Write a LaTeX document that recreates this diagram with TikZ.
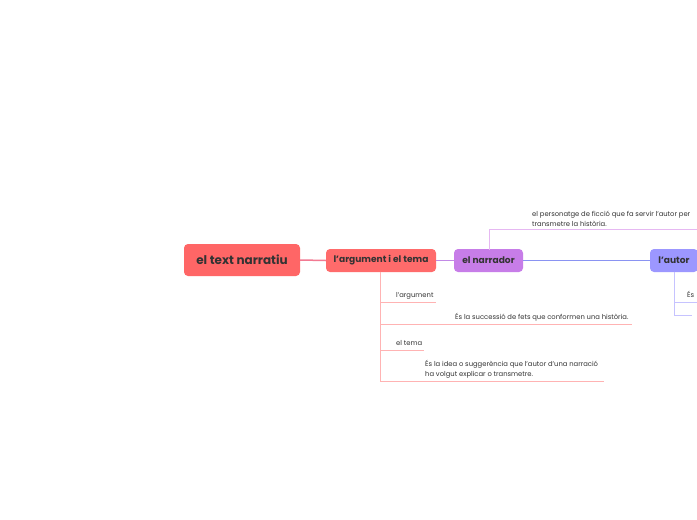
\documentclass[tikz,border=0pt]{standalone}
\usepackage{fontspec}
\setmainfont{Poppins}
\begin{document}
\begin{tikzpicture}[x=1pt,y=-1pt,
  topic/.style={rounded corners=4pt,inner sep=0pt,text=black!80,font=\bfseries},
  lbl/.style={anchor=base west,inner sep=0pt,font=\fontsize{6.8}{9.5}\selectfont,text=black!80,align=left}]
\useasboundingbox (0,0) rectangle (697,520);
\clip (0,0) rectangle (697,520);
\definecolor{rootc}{HTML}{FF6666}
\definecolor{argc}{HTML}{FF6B6B}
\definecolor{narc}{HTML}{C77DE8}
\definecolor{autc}{HTML}{9C97FF}
\definecolor{l1}{HTML}{F27A92}
\definecolor{l2}{HTML}{C28AE6}
\definecolor{l3}{HTML}{8A93F2}
\definecolor{argl}{HTML}{FFB3B3}
\definecolor{narl}{HTML}{E6B8F2}
\definecolor{autl}{HTML}{C6C3FF}
\fill[white] (0,0) rectangle (697,520);
% nodes
\node[topic,fill=rootc,minimum width=116pt,minimum height=32pt,font=\bfseries\fontsize{12}{14}\selectfont] (root) at (242,260) {el text narratiu};
\node[topic,fill=argc,minimum width=110pt,minimum height=23pt,font=\bfseries\fontsize{9.1}{11}\selectfont] (arg) at (381,260.5) {l'argument i el tema};
\node[topic,fill=narc,minimum width=69pt,minimum height=23pt,font=\bfseries\fontsize{9.1}{11}\selectfont] (nar) at (488.5,260.5) {el narrador};
\node[topic,fill=autc,minimum width=48pt,minimum height=23pt,font=\bfseries\fontsize{9.1}{11}\selectfont] (aut) at (674,260.5) {l'autor};
% main connectors
\draw[l1,line width=1.5pt] (root.east) -- (arg.west);
\draw[l2,line width=1.5pt] (arg.east) -- (nar.west);
\draw[l3,line width=1.5pt] (nar.east) -- (aut.west);
% narrador child
\coordinate (n0) at (489,249.5);
\coordinate (n1) at (489,229);
\coordinate (n2) at (700,229);
\draw[narl,line width=0.9pt] (n0) -- (n1) -- (n2);
\node[lbl] (nt) at (532,226) {el personatge de ficció que fa servir l'autor per\\transmetre la història.};
% argument children
\coordinate (a0) at (380,271.5);
\coordinate (a1) at (380,302);
\coordinate (a1e) at (436,302);
\coordinate (a2) at (380,324);
\coordinate (a2e) at (632,324);
\coordinate (a3) at (380,350);
\coordinate (a3e) at (424,350);
\coordinate (a4) at (380,381);
\coordinate (a4e) at (604,381);
\draw[argl,line width=0.9pt] (a0) -- (a4);
\draw[argl,line width=0.9pt] (a1) -- (a1e);
\draw[argl,line width=0.9pt] (a2) -- (a2e);
\draw[argl,line width=0.9pt] (a3) -- (a3e);
\draw[argl,line width=0.9pt] (a4) -- (a4e);
\node[lbl] (t1) at (396,297.5) {l'argument};
\node[lbl] (t2) at (455,319.5) {És la successió de fets que conformen una història.};
\node[lbl] (t3) at (396,345.5) {el tema};
\node[lbl] (t4) at (425,376) {És la idea o suggerència que l'autor d'una narració\\ha volgut explicar o transmetre.};
% autor children
\coordinate (u0) at (674,271.5);
\coordinate (u1) at (674,302);
\coordinate (u1e) at (700,302);
\coordinate (u2) at (674,315);
\coordinate (u2e) at (692,315);
\draw[autl,line width=0.9pt] (u0) -- (u2);
\draw[autl,line width=0.9pt] (u1) -- (u1e);
\draw[autl,line width=0.9pt] (u2) -- (u2e);
\node[lbl] (ut) at (687,297.5) {És};
\end{tikzpicture}
\end{document}
